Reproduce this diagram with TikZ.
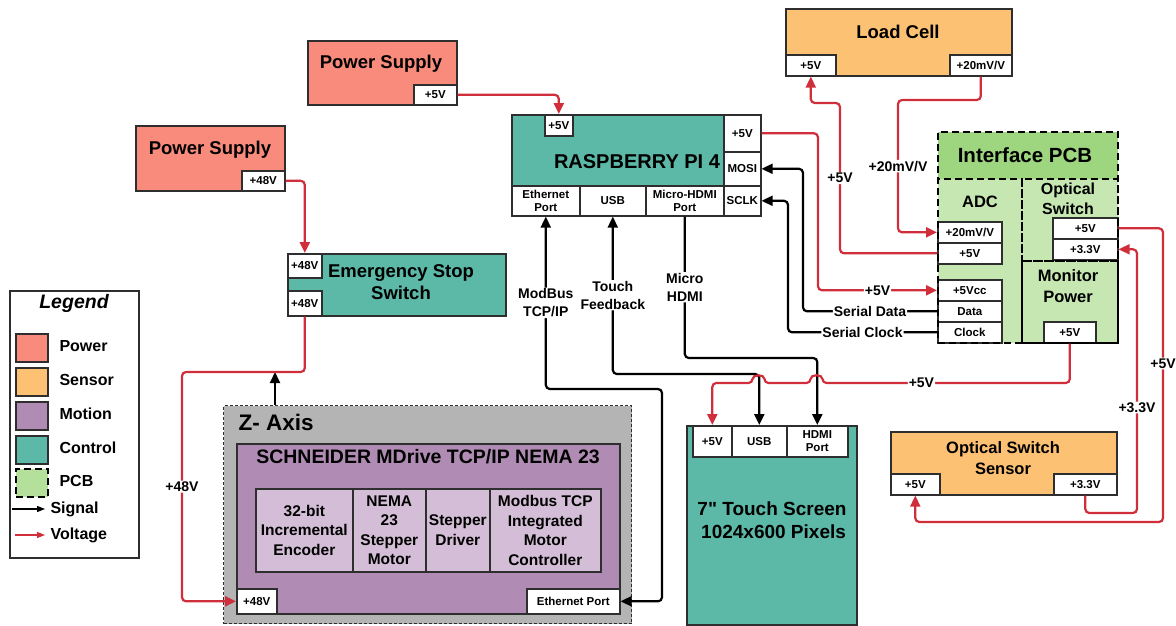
\documentclass[tikz,border=0pt]{standalone}
\usepackage{fontspec}
\setmainfont{Liberation Sans}
\usetikzlibrary{arrows.meta}
\definecolor{powerred}{HTML}{F98B7C}
\definecolor{sensororange}{HTML}{FDC173}
\definecolor{motionpurple}{HTML}{B08CB4}
\definecolor{motionlight}{HTML}{D4BDD6}
\definecolor{controlteal}{HTML}{5CB9A8}
\definecolor{pcbgreen}{HTML}{C6E7B1}
\definecolor{pcbdark}{HTML}{9DD67F}
\definecolor{pcblegend}{HTML}{B5E09B}
\definecolor{axisgray}{HTML}{B4B4B4}
\definecolor{wirered}{HTML}{D12E3B}
\definecolor{edgegray}{HTML}{2E2E2E}

\begin{document}
\begin{tikzpicture}[x=1pt, y=-1pt,
    box/.style={draw=edgegray, line width=1.6pt, inner sep=0pt, anchor=north west},
    port/.style={box, fill=white, align=center, font=\bfseries\fontsize{11.5}{13}\selectfont},
    cell/.style={box, fill=motionlight, align=center, font=\bfseries\fontsize{15.5}{19.5}\selectfont},
    title/.style={align=center, font=\bfseries\fontsize{18.5}{22}\selectfont},
    pcbline/.style={draw=black, line width=2.2pt, dash pattern=on 7pt off 4pt},
    volt/.style={draw=wirered, line width=2.2pt, rounded corners=4pt, -{Triangle[length=11pt,width=10pt]}},
    sig/.style={draw=black, line width=2.2pt, rounded corners=4pt, -{Triangle[length=11pt,width=10pt]}},
    sigboth/.style={sig, {Triangle[length=11pt,width=10pt]}-{Triangle[length=11pt,width=10pt]}},
    wirelabel/.style={fill=white, inner sep=1pt, align=center, font=\bfseries\fontsize{14}{18}\selectfont},
    legendtext/.style={anchor=west, font=\bfseries\fontsize{16}{18}\selectfont},
  ]
  \useasboundingbox (0,0) rectangle (1176,625);

  % power supplies
  \node[box, fill=powerred, minimum width=149, minimum height=64] (ps1) at (307,40) {};
  \node[title] (ps1t) at (381,64) {Power Supply};
  \node[port, minimum width=43, minimum height=20] (ps1v) at (413,84) {+5V};

  \node[box, fill=powerred, minimum width=149, minimum height=65] (ps2) at (135,125) {};
  \node[title] (ps2t) at (210,150) {Power Supply};
  \node[port, minimum width=43, minimum height=20] (ps2v) at (241,170) {+48V};

  % emergency stop
  \node[box, fill=controlteal, minimum width=218, minimum height=62] (ess) at (287,253) {};
  \node[title] (esst) at (401,282) {Emergency Stop\\Switch};
  \node[port, minimum width=34, minimum height=24] (essa) at (287,253) {+48V};
  \node[port, minimum width=34, minimum height=25] (essb) at (287,290) {+48V};

  % raspberry pi
  \node[box, fill=controlteal, minimum width=249, minimum height=101] (rpi) at (511,114) {};
  \node[title, font=\bfseries\fontsize{20}{24}\selectfont] (rpit) at (637,162) {RASPBERRY PI 4};
  \node[port, minimum width=28, minimum height=21] (rp5t) at (544,114) {+5V};
  \node[port, minimum width=37, minimum height=37] (rp5) at (723,114) {+5V};
  \node[port, minimum width=37, minimum height=34] (rpm) at (723,151) {MOSI};
  \node[port, minimum width=37, minimum height=30] (rps) at (723,185) {SCLK};
  \node[port, minimum width=68, minimum height=30] (rpe) at (511,185) {Ethernet\\Port};
  \node[port, minimum width=66, minimum height=30] (rpu) at (579,185) {USB};
  \node[port, minimum width=78, minimum height=30] (rph) at (645,185) {Micro-HDMI\\Port};

  % load cell
  \node[box, fill=sensororange, minimum width=226, minimum height=67] (lc) at (785,8) {};
  \node[title] (lct) at (898,32) {Load Cell};
  \node[port, minimum width=50, minimum height=21] (lca) at (785,54) {+5V};
  \node[port, minimum width=62, minimum height=21] (lcb) at (949,54) {+20mV/V};

  % interface pcb
  \node[box, draw=none, fill=pcbgreen, minimum width=180, minimum height=211] (pcb) at (937,131) {};
  \node[box, draw=none, fill=pcbdark, minimum width=180, minimum height=47] (pcbh) at (937,131) {};
  \node[title, font=\bfseries\fontsize{20.5}{24}\selectfont] (pcbt) at (1025,155) {Interface PCB};
  \node[title, font=\bfseries\fontsize{16.5}{20}\selectfont] (adct) at (980,202) {ADC};
  \node[title, font=\bfseries\fontsize{16}{20}\selectfont] (oswt) at (1068,199) {Optical\\Switch};
  \node[title, font=\bfseries\fontsize{16.5}{21}\selectfont] (mont) at (1068,286) {Monitor\\Power};
  \node[port, minimum width=64, minimum height=21] (adc1) at (937,221) {+20mV/V};
  \node[port, minimum width=64, minimum height=21] (adc2) at (937,242) {+5V};
  \node[port, minimum width=64, minimum height=21] (adc3) at (937,279) {+5Vcc};
  \node[port, minimum width=64, minimum height=21] (adc4) at (937,300) {Data};
  \node[port, minimum width=64, minimum height=21] (adc5) at (937,321) {Clock};
  \node[port, minimum width=65, minimum height=21] (osw5) at (1052,217) {+5V};
  \node[port, minimum width=65, minimum height=21] (osw3) at (1052,238) {+3.3V};
  \node[port, minimum width=52, minimum height=21] (mon5) at (1043,321) {+5V};
  \node[box, pcbline, minimum width=84, minimum height=164] (adc) at (937,178) {};
  \node[box, pcbline, minimum width=96, minimum height=82] (osw) at (1021,178) {};
  \node[box, pcbline, minimum width=96, minimum height=82] (mon) at (1021,260) {};
  \node[box, pcbline, minimum width=180, minimum height=211] (pcbo) at (937,131) {};

  % optical switch sensor
  \node[box, fill=sensororange, minimum width=226, minimum height=63] (oss) at (890,431) {};
  \node[title, font=\bfseries\fontsize{16.5}{21}\selectfont] (osst) at (1003,458) {Optical Switch\\Sensor};
  \node[port, minimum width=49, minimum height=21] (oss5) at (890,473) {+5V};
  \node[port, minimum width=63, minimum height=21] (oss3) at (1053,473) {+3.3V};

  % touch screen
  \node[box, fill=controlteal, minimum width=170, minimum height=199] (ts) at (686,425) {};
  \node[title, font=\bfseries\fontsize{19}{23}\selectfont] (tst) at (772,520) {7\XeTeXglyph\XeTeXcharglyph"0022\ Touch Screen\\ \,1024x600 Pixels};
  \node[port, minimum width=39, minimum height=31] (ts5) at (692,425) {+5V};
  \node[port, minimum width=55, minimum height=31] (tsu) at (731,425) {USB};
  \node[port, minimum width=61, minimum height=31] (tsh) at (786,425) {HDMI\\Port};

  % z axis
  \node[box, fill=axisgray, line width=1pt, dash pattern=on 3pt off 2pt, minimum width=408, minimum height=218] (zax) at (223,405) {};
  \node[title, anchor=west, font=\bfseries\fontsize{22.5}{26}\selectfont] (zaxt) at (235,422) {Z- Axis};
  \node[box, fill=motionpurple, minimum width=383, minimum height=170] (mdr) at (236,443) {};
  \node[title, font=\bfseries\fontsize{19.5}{23}\selectfont] (mdrt) at (428,457) {SCHNEIDER MDrive TCP/IP NEMA 23};
  \node[cell, minimum width=97, minimum height=83] (enc) at (255,488) {32-bit\\Incremental\\Encoder};
  \node[cell, minimum width=73, minimum height=83] (nema) at (352,488) {NEMA\\23\\Stepper\\Motor};
  \node[cell, minimum width=64, minimum height=83] (drv) at (425,488) {Stepper\\Driver};
  \node[cell, minimum width=111, minimum height=83] (ctl) at (489,488) {Modbus TCP\\Integrated\\Motor\\Controller};
  \node[port, minimum width=40, minimum height=25] (mdr48) at (236,588) {+48V};
  \node[port, minimum width=93, minimum height=25] (mdre) at (526,588) {Ethernet Port};

  % legend
  \node[box, fill=white, minimum width=129, minimum height=267] (leg) at (9,290) {};
  \node[title, font=\bfseries\itshape\fontsize{19.5}{22}\selectfont] (legt) at (74,303) {Legend};
  \node[box, fill=powerred, minimum width=32, minimum height=28] (swp) at (15,333) {};
  \node[box, fill=sensororange, minimum width=32, minimum height=28] (sws) at (15,367) {};
  \node[box, fill=motionpurple, minimum width=32, minimum height=28] (swm) at (15,401) {};
  \node[box, fill=controlteal, minimum width=32, minimum height=28] (swc) at (15,435) {};
  \node[box, fill=pcblegend, pcbline, minimum width=32, minimum height=28] (swb) at (15,468) {};
  \node[legendtext] (lgp) at (56,346) {Power};
  \node[legendtext] (lgs) at (56,380) {Sensor};
  \node[legendtext] (lgm) at (56,414) {Motion};
  \node[legendtext] (lgc) at (56,448) {Control};
  \node[legendtext] (lgb) at (56,481) {PCB};
  \coordinate (sig0) at (12,509);
  \coordinate (sig1) at (45,509);
  \coordinate (vlt0) at (15,535);
  \coordinate (vlt1) at (45,535);
  \draw[sig, line width=1.2pt, -{Triangle[length=8pt,width=6pt]}] (sig0) -- (sig1);
  \draw[volt, line width=1.2pt, -{Triangle[length=8pt,width=6pt]}] (vlt0) -- (vlt1);
  \node[legendtext] (lgsig) at (47,509) {Signal};
  \node[legendtext] (lgvlt) at (47,535) {Voltage};

  % signal wires
  \coordinate (ce) at (662,389);
  \coordinate (cu) at (700,374);
  \coordinate (ch) at (750,358);
  \coordinate (cd) at (803,250);
  \coordinate (cc) at (788,250);
  \coordinate (zup) at (275,372);
  \draw[sigboth] (mdre.east) -| (ce) -| node[wirelabel, pos=0.75] (lmb) {ModBus\\TCP/IP} (rpe.south);
  \draw[sigboth] (tsu.north) |- (cu) -| node[wirelabel, pos=0.75] (ltf) {Touch\\Feedback} (rpu.south);
  \draw[sig] (rph.south) |- node[wirelabel, pos=0.25] (lmh) {Micro\\HDMI} (ch) -| (tsh.north);
  \draw[sig] (adc4.west) -| node[wirelabel, pos=0.25] (lsd) {Serial Data} (cd) |- (rpm.east);
  \draw[sig] (adc5.west) -| node[wirelabel, pos=0.25] (lsc) {Serial Clock} (cc) |- (rps.east);
  \draw[sig] (zup |- zax.north) -- (zup);

  % voltage wires
  \coordinate (c48) at (182,372);
  \coordinate (c20) at (898,100);
  \coordinate (c5a) at (840,103);
  \coordinate (c5b) at (818,200);
  \coordinate (co5) at (1163,522);
  \coordinate (co3) at (1137,513);
  \coordinate (jh) at (816.5,383);
  \coordinate (ju) at (758.5,383);
  \draw[volt] (ps1v.east) -| (rp5t.north);
  \draw[volt] (ps2v.east) -| (essa.north);
  \draw[volt] (essb.south) |- (c48) |- node[wirelabel, pos=0.25] (l48) {+48V} (mdr48.west);
  \draw[volt] (lcb.south) |- (c20) |- node[wirelabel, pos=0.25] (l20) {+20mV/V} (adc1.west);
  \draw[volt] (adc2.west) -| node[wirelabel, pos=0.75] (l5a) {+5V} (c5a) -| (lca.south);
  \draw[volt] (rp5.east) -| (c5b) |- node[wirelabel, pos=0.75] (l5b) {+5V} (adc3.west);
  \draw[volt] (osw5.east) -| node[wirelabel, pos=0.73] (lo5) {+5V} (co5) -| (oss5.south);
  \draw[volt] (oss3.south) |- (co3) |- node[wirelabel, pos=0.2] (lo3) {+3.3V} (osw3.east);
  \draw[volt] (mon5.south) |- node[wirelabel, pos=0.8] (lm5) {+5V} ([xshift=6pt]jh)
    .. controls ([shift={(6,-9)}]jh) and ([shift={(-6,-9)}]jh) .. ([xshift=-6pt]jh)
    -- ([xshift=6pt]ju)
    .. controls ([shift={(6,-9)}]ju) and ([shift={(-6,-9)}]ju) .. ([xshift=-6pt]ju)
    -| (ts5.north);
\end{tikzpicture}
\end{document}
